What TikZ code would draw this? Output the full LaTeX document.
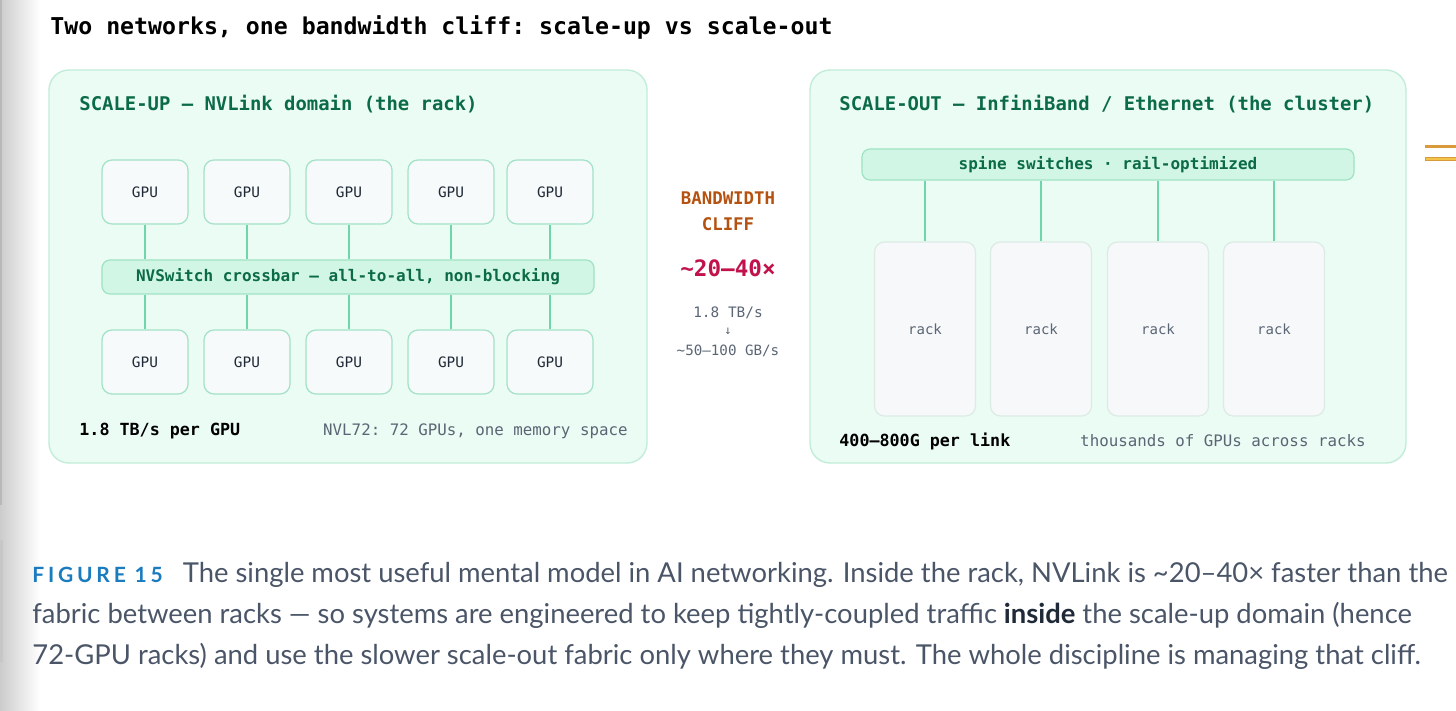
\documentclass[tikz,border=0pt]{standalone}
\usepackage{fontspec}
\setmainfont{Lato}
\setmonofont{DejaVu Sans Mono}

\definecolor{panelfill}{HTML}{EBFCF4}
\definecolor{panelline}{HTML}{C2EDD9}
\definecolor{gpufill}{HTML}{F7FAFA}
\definecolor{gpuline}{HTML}{A3E2C6}
\definecolor{barfill}{HTML}{D2F6E5}
\definecolor{barline}{HTML}{9EE3C2}
\definecolor{rackfill}{HTML}{F6F8FA}
\definecolor{rackline}{HTML}{DCEBE4}
\definecolor{linkgreen}{HTML}{6FD5AA}
\definecolor{headgreen}{HTML}{0C6B47}
\definecolor{textdark}{HTML}{1F2937}
\definecolor{textgray}{HTML}{5B6574}
\definecolor{cliffbrown}{HTML}{B5520F}
\definecolor{cliffred}{HTML}{C2124B}
\definecolor{capgray}{HTML}{4A5568}
\definecolor{capblue}{HTML}{1B7BBF}
\definecolor{ochre}{HTML}{D99A3A}
\definecolor{gold}{HTML}{F3C34A}

\begin{document}
\begin{tikzpicture}[x=0.5pt, y=-0.5pt, font=\ttfamily,
  panel/.style={draw=panelline, fill=panelfill, line width=0.7pt, rounded corners=10pt, inner sep=0pt},
  gpu/.style={draw=gpuline, fill=gpufill, line width=0.6pt, rounded corners=5pt, inner sep=0pt,
    minimum width=43pt, minimum height=32pt, text=textdark, font=\ttfamily\fontsize{7.2}{8}\selectfont},
  bar/.style={draw=barline, fill=barfill, line width=0.6pt, rounded corners=4pt, inner sep=0pt,
    text=headgreen, font=\ttfamily\bfseries\fontsize{8}{9}\selectfont},
  rackbox/.style={draw=rackline, fill=rackfill, line width=0.6pt, rounded corners=5pt, inner sep=0pt,
    minimum width=50.5pt, minimum height=87pt, text=textgray, font=\ttfamily\fontsize{7}{8}\selectfont},
  link/.style={draw=linkgreen, line width=1.4pt},
  label/.style={inner sep=0pt, anchor=base},
  head/.style={label, anchor=base west, text=headgreen, font=\ttfamily\bfseries\fontsize{9.45}{11}\selectfont},
  foot/.style={label, anchor=base west, text=black, font=\ttfamily\bfseries\fontsize{8.35}{10}\selectfont},
  note/.style={label, anchor=base east, text=textgray, font=\ttfamily\fontsize{7.9}{9}\selectfont},
  capline/.style={label, anchor=base west, text=capgray, font=\fontsize{13.7}{15}\selectfont},
]
  \useasboundingbox (0,0) rectangle (1456,711);
  \fill[white] (0,0) rectangle (1456,711);
  \shade[left color=black!20, right color=white] (0,0) rectangle (40,711);
  \fill[black!28] (0,0) rectangle (2,505);
  \fill[black!22] (0,540) rectangle (3,662);

  % title
  \node[label, anchor=base west, font=\ttfamily\bfseries\fontsize{11.6}{13}\selectfont] (title) at (50,35)
    {Two networks, one bandwidth cliff: scale-up vs scale-out};

  % scale-up panel
  \node[panel, minimum width=299pt, minimum height=196.5pt] (up) at (348,266.5) {};
  \node[head] (uphead) at (79,111) {SCALE-UP — NVLink domain (the rack)};
  \node[bar, minimum width=246pt, minimum height=17pt] (nvs) at (348,277)
    {NVSwitch crossbar — all-to-all, non-blocking};
  \foreach \x [count=\i] in {145,247,349,451,550} {
    \node[gpu] (gt\i) at (\x,192) {GPU};
    \node[gpu] (gb\i) at (\x,362) {GPU};
    \draw[link] (gt\i.south) -- (gt\i.south |- nvs.north);
    \draw[link] (gb\i.north) -- (gb\i.north |- nvs.south);
  }
  \node[foot] (upfoot) at (79,435) {1.8 TB/s per GPU};
  \node[note] (upnote) at (628,435) {NVL72: 72 GPUs, one memory space};

  % the cliff
  \node[label, text=cliffbrown, font=\ttfamily\bfseries\fontsize{8.7}{10}\selectfont] (bw) at (728,205) {BANDWIDTH};
  \node[label, text=cliffbrown, font=\ttfamily\bfseries\fontsize{8.7}{10}\selectfont] (cl) at (728,231) {CLIFF};
  \node[label, text=cliffred, font=\ttfamily\bfseries\fontsize{11.3}{13}\selectfont] (ratio) at (728,277) {\textasciitilde 20–40×};
  \node[label, text=textgray, font=\ttfamily\fontsize{7.2}{8}\selectfont] (fast) at (728,317) {1.8 TB/s};
  \node[label, text=textgray, font=\ttfamily\fontsize{6}{7}\selectfont] (arr) at (728,335) {↓};
  \node[label, text=textgray, font=\ttfamily\fontsize{7.1}{8}\selectfont] (slow) at (728,355) {\textasciitilde 50–100 GB/s};

  % scale-out panel
  \node[panel, minimum width=298pt, minimum height=196.5pt] (out) at (1108,266.5) {};
  \node[head] (outhead) at (839,111) {SCALE-OUT — InfiniBand / Ethernet (the cluster)};
  \node[bar, minimum width=246pt, minimum height=15.5pt] (spine) at (1108,164.5)
    {spine switches · rail-optimized};
  \foreach \x [count=\i] in {925,1041,1158,1274} {
    \node[rackbox] (rack\i) at (\x,329) {rack};
    \draw[link, line width=1pt] (rack\i.north) -- (rack\i.north |- spine.south);
  }
  \node[foot] (outfoot) at (839,446) {400–800G per link};
  \node[note] (outnote) at (1366,446) {thousands of GPUs across racks};

  % cut-off mark at the right edge
  \fill[ochre] (1425,145.5) rectangle (1456,148.5);
  \draw[draw=ochre, fill=gold, line width=0.5pt] (1425,157.5) rectangle (1458,160.5);

  % caption
  \node[capline] (cap1) at (32,582)
    {{\color{capblue}\bfseries\addfontfeatures{LetterSpace=18}\fontsize{10.5}{12}\selectfont FIGURE 15}\hspace{10pt}The single most useful mental model in AI networking. Inside the rack, NVLink is \textasciitilde 20–40× faster than the};
  \node[capline] (cap2) at (32,623)
    {fabric between racks — so systems are engineered to keep tightly-coupled traffic {\color{textdark}\bfseries inside} the scale-up domain (hence};
  \node[capline] (cap3) at (32,664)
    {72-GPU racks) and use the slower scale-out fabric only where they must. The whole discipline is managing that cliff.};
\end{tikzpicture}
\end{document}
